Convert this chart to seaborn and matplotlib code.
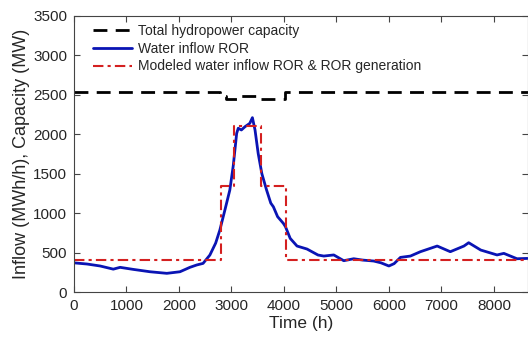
import matplotlib
matplotlib.use('Agg')
import matplotlib.pyplot as plt
import pandas as pd
import seaborn as sns

# inflow ROR
t_inflow = [0, 250, 500, 750, 880, 1130, 1450, 1770, 2020, 2210, 2340, 2460, 2590, 2700, 2780,
            2880, 2970, 3035, 3100, 3130, 3190, 3260, 3350, 3400, 3450, 3510, 3580, 3670,
            3750, 3800, 3880, 3990, 4030, 4120, 4250, 4440, 4650, 4760, 4950, 5140, 5330,
            5500, 5710, 5850, 6000, 6100, 6220, 6410, 6600, 6920, 7170, 7430, 7520, 7750,
            8060, 8190, 8440, 8640]
v_inflow = [370, 355, 330, 290, 313, 287, 257, 237, 257, 313, 343, 363, 469, 620, 786,
            1050, 1293, 1600, 2010, 2076, 2054, 2096, 2138, 2210, 2054, 1757, 1500, 1293,
            1127, 1080, 955, 870, 828, 680, 583, 545, 469, 456, 470, 397, 422,
            405, 393, 370, 330, 360, 439, 456, 511, 583, 511, 583, 625, 532,
            470, 490, 422, 426]

# modeled inflow / ROR generation (steps)
t_model = [0, 2800, 3050, 3560, 4040, 8760]
v_model = [400, 1350, 2100, 1350, 400, 400]

# total hydropower capacity (steps)
t_cap = [0, 2780, 2900, 3100, 3500, 4020, 8760]
v_cap = [2540, 2490, 2450, 2480, 2450, 2540, 2540]

sns.set_style("ticks")
plt.rcParams['font.family'] = ['Liberation Sans', 'DejaVu Sans']

fig = plt.figure(figsize=(5.28, 3.38), dpi=100)
ax = fig.add_axes([0.14, 0.136, 0.86, 0.817])

df_cap = pd.DataFrame({'t': t_cap, 'v': v_cap})
df_in = pd.DataFrame({'t': t_inflow, 'v': v_inflow})
df_mod = pd.DataFrame({'t': t_model, 'v': v_model})

sns.lineplot(data=df_cap, x='t', y='v', ax=ax, color='black', lw=2,
             drawstyle='steps-post', label='Total hydropower capacity')
ax.lines[-1].set_dashes([5, 3])
sns.lineplot(data=df_in, x='t', y='v', ax=ax, color='#0a14b4', lw=2,
             label='Water inflow ROR')
sns.lineplot(data=df_mod, x='t', y='v', ax=ax, color='#d42020', lw=1.5,
             drawstyle='steps-post', label='Modeled water inflow ROR & ROR generation')
ax.lines[-1].set_dashes([5, 2, 1.5, 2])

ax.set_xlim(0, 8650)
ax.set_ylim(0, 3500)
ax.set_xticks(range(0, 8001, 1000))
ax.set_yticks(range(0, 3501, 500))
ax.set_xlabel('Time (h)', fontsize=12.5, labelpad=2.5)
ax.set_ylabel('Inflow (MWh/h), Capacity (MW)', fontsize=13, labelpad=2)
ax.tick_params(direction='in', top=True, right=True, labelsize=11, length=4,
               color='#444444', pad=5)
for s in ax.spines.values():
    s.set_color('#444444')
    s.set_linewidth(0.8)

leg = ax.legend(loc='upper left', bbox_to_anchor=(0.03, 0.99), frameon=False,
                fontsize=10, handlelength=2.8, borderaxespad=0, borderpad=0.4,
                labelspacing=0.26, handletextpad=0.4)

fig.savefig('out.png', dpi=100)
